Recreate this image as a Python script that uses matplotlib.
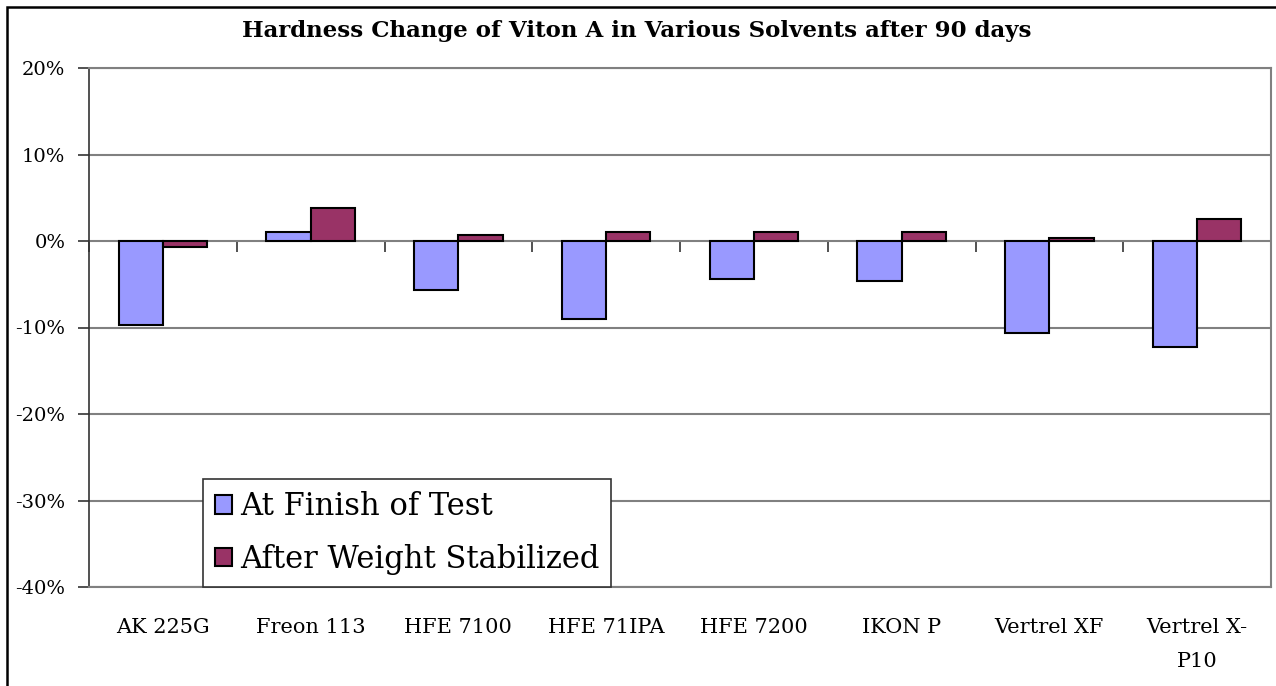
import numpy as np
import matplotlib
matplotlib.use("Agg")
import matplotlib.pyplot as plt
from matplotlib.patches import Rectangle

# data (percent change in hardness)
solvents = ["AK 225G", "Freon 113", "HFE 7100", "HFE 71IPA", "HFE 7200",
            "IKON P", "Vertrel XF", "Vertrel X-\nP10"]
at_finish = [-9.7, 1.0, -5.7, -9.0, -4.4, -4.6, -10.6, -12.2]
after_stabilized = [-0.7, 3.8, 0.7, 1.0, 1.0, 1.0, 0.3, 2.6]
series_names = ["At Finish of Test", "After Weight Stabilized"]
y_ticks = [20, 10, 0, -10, -20, -30, -40]

plt.rcParams["font.family"] = ["DejaVu Serif"]

W, H = 1276, 686
fig = plt.figure(figsize=(W / 100, H / 100), dpi=100)
ax = fig.add_axes([89 / W, 1 - 587 / H, (1271 - 89) / W, (587 - 68) / H])

x = np.arange(len(solvents))
bw = 0.3
ax.bar(x - bw / 2, at_finish, bw, color="#9999FF", edgecolor="black",
       linewidth=1.5, label=series_names[0], zorder=3)
ax.bar(x + bw / 2, after_stabilized, bw, color="#993366", edgecolor="black",
       linewidth=1.5, label=series_names[1], zorder=3)

ymin, ymax = min(y_ticks), max(y_ticks)
ax.set_ylim(ymin, ymax)
ax.set_xlim(-0.5, len(solvents) - 0.5)

# y axis
ax.set_yticks(y_ticks)
ax.set_yticklabels(["{}%".format(v) for v in y_ticks])
ax.tick_params(axis="y", direction="out", length=8, width=1.2, color="#333333",
               labelsize=14, pad=9)
ax.yaxis.grid(True, color="#808080", linewidth=1.5, zorder=0)

# category labels at the bottom, no ticks
ax.set_xticks(x)
ax.set_xticklabels(solvents, linespacing=2.05, va="top")
ax.tick_params(axis="x", length=0, labelsize=15, pad=22)

for side in ["top", "right", "bottom"]:
    ax.spines[side].set_color("#808080")
    ax.spines[side].set_linewidth(1.5)
ax.spines["left"].set_color("#333333")
ax.spines["left"].set_linewidth(1.2)

# zero line with boundary ticks pointing down
zero_pos = (0 - ymin) / (ymax - ymin)
sec = ax.secondary_xaxis(zero_pos)
sec.set_xticks(np.arange(len(solvents) + 1) - 0.5)
sec.tick_params(length=8, width=1.2, color="#333333", direction="in",
                labelbottom=False, labeltop=False)
for sp in sec.spines.values():
    sp.set_color("#555555")
    sp.set_linewidth(1.2)

leg = ax.legend(loc="lower left", bbox_to_anchor=(203 / W, 1 - 587 / H),
                bbox_transform=fig.transFigure, borderaxespad=0,
                fontsize=22, fancybox=False, framealpha=1, edgecolor="#333333",
                handlelength=0.55, handleheight=0.55, handletextpad=0.25,
                borderpad=0.4, labelspacing=0.7)
leg.get_frame().set_linewidth(1.2)
leg.set_zorder(5)

fig.text(637 / W, 1 - 31 / H,
         "Hardness Change of Viton A in Various Solvents after 90 days",
         ha="center", va="center", fontsize=16.5, fontweight="bold")

# outer chart frame
fig.patches.append(Rectangle((7 / W, -0.1), 1.2, 1 - 7 / H + 0.1,
                             transform=fig.transFigure, fill=False,
                             edgecolor="black", linewidth=1.8))

fig.savefig("out.png", dpi=100)
